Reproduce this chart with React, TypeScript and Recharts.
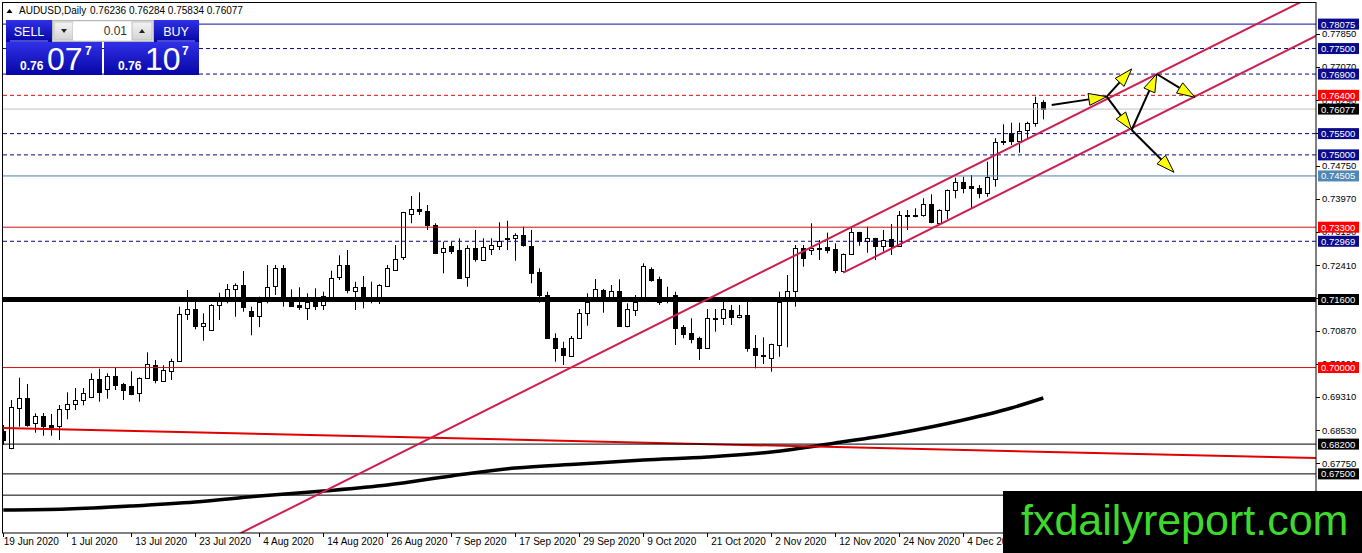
import React from 'react';
import { ComposedChart, Bar, Line, XAxis, YAxis, ReferenceLine } from 'recharts';

// ---------- data ----------
const opens = [
  0.68515, 0.68101, 0.69065, 0.69291, 0.68689, 0.68861, 0.68649, 0.68633, 0.69025, 0.69136,
  0.69237, 0.69300, 0.69731, 0.69488, 0.69801, 0.69613, 0.69566, 0.69394, 0.69747, 0.70053,
  0.69676, 0.69919, 0.70147, 0.71252, 0.71369, 0.70977, 0.70876, 0.71471, 0.71628, 0.71847,
  0.71934, 0.71330, 0.71219, 0.71548, 0.71917, 0.72333, 0.71548, 0.71471, 0.71416, 0.71548,
  0.71471, 0.71628, 0.72112, 0.72404, 0.71807, 0.71901, 0.71588, 0.71628, 0.71934, 0.72310,
  0.72583, 0.73610, 0.73735, 0.73690, 0.73352, 0.72700, 0.72858, 0.72764, 0.72122, 0.72804,
  0.72529, 0.72780, 0.72874, 0.73039, 0.73039, 0.73116, 0.72858, 0.72239, 0.71706, 0.70688,
  0.70452, 0.70278, 0.70688, 0.71299, 0.71605, 0.71823, 0.71666, 0.71800, 0.70977, 0.71369,
  0.71605, 0.72317, 0.72082, 0.71600, 0.71706, 0.70946, 0.70819, 0.70688, 0.70452, 0.71158,
  0.71158, 0.71353, 0.71181, 0.71235, 0.70452, 0.70278, 0.70217, 0.70547, 0.71588, 0.71783,
  0.72804, 0.72764, 0.72804, 0.72841, 0.72780, 0.72277, 0.72670, 0.73180, 0.72959, 0.73039,
  0.72858, 0.73015, 0.72858, 0.73587, 0.73595, 0.73587, 0.73838, 0.73406, 0.73704, 0.74175,
  0.74370, 0.74269, 0.74215, 0.74097, 0.74450, 0.75310, 0.75508, 0.75327, 0.75569, 0.75743,
  0.76236,
];
const highs = [
  0.68649, 0.69237, 0.69761, 0.69613, 0.68924, 0.68931, 0.68908, 0.69119, 0.69418, 0.69519,
  0.69519, 0.69865, 0.69973, 0.69865, 0.70006, 0.69640, 0.69911, 0.69770, 0.70358, 0.70177,
  0.70053, 0.70208, 0.71431, 0.71823, 0.71588, 0.71275, 0.71490, 0.71760, 0.71964, 0.71981,
  0.72270, 0.71431, 0.71666, 0.72411, 0.72411, 0.72411, 0.71840, 0.71887, 0.71746, 0.71863,
  0.71783, 0.72277, 0.72639, 0.72764, 0.72018, 0.72152, 0.72018, 0.71960, 0.72411, 0.72881,
  0.73660, 0.74033, 0.74120, 0.73822, 0.73392, 0.72959, 0.72959, 0.73039, 0.72874, 0.73234,
  0.73039, 0.73039, 0.73415, 0.73453, 0.73156, 0.73312, 0.73234, 0.72333, 0.71783, 0.70805,
  0.70608, 0.70742, 0.71376, 0.71746, 0.72082, 0.71850, 0.71941, 0.72075, 0.71510, 0.71706,
  0.72451, 0.72357, 0.72136, 0.71901, 0.71783, 0.71000, 0.71158, 0.70725, 0.71376, 0.71376,
  0.71548, 0.71471, 0.71471, 0.71548, 0.70765, 0.70711, 0.70560, 0.71783, 0.72176, 0.72881,
  0.72881, 0.73392, 0.72999, 0.73171, 0.72921, 0.72680, 0.73312, 0.73190, 0.73312, 0.73050,
  0.73234, 0.73375, 0.73681, 0.73704, 0.73744, 0.73979, 0.74073, 0.73721, 0.74185, 0.74464,
  0.74487, 0.74527, 0.74292, 0.74840, 0.75390, 0.75719, 0.75757, 0.75757, 0.75780, 0.76368,
  0.76284,
];
const lows = [
  0.68179, 0.68080, 0.68609, 0.68609, 0.68468, 0.68397, 0.68397, 0.68296, 0.68783, 0.69002,
  0.69112, 0.69280, 0.69197, 0.69267, 0.69472, 0.69237, 0.69350, 0.69197, 0.69730, 0.69629,
  0.69660, 0.69707, 0.70130, 0.71118, 0.70899, 0.70631, 0.70860, 0.71118, 0.71510, 0.71195,
  0.71313, 0.70758, 0.70950, 0.71510, 0.71706, 0.71431, 0.71431, 0.71353, 0.71118, 0.71353,
  0.71353, 0.71588, 0.72058, 0.71746, 0.71353, 0.71393, 0.71510, 0.71494, 0.71901, 0.72294,
  0.72529, 0.73392, 0.73587, 0.73234, 0.72670, 0.72216, 0.72670, 0.72082, 0.71901, 0.72489,
  0.72510, 0.72646, 0.72764, 0.72764, 0.72512, 0.72841, 0.71981, 0.71525, 0.70688, 0.70137,
  0.70060, 0.70260, 0.70670, 0.70984, 0.71588, 0.71289, 0.71651, 0.70970, 0.70946, 0.71212,
  0.71590, 0.72018, 0.71471, 0.71510, 0.70530, 0.70688, 0.70570, 0.70177, 0.70440, 0.70843,
  0.71000, 0.71000, 0.71158, 0.70372, 0.69982, 0.70083, 0.69902, 0.70255, 0.70476, 0.71431,
  0.72371, 0.72646, 0.72529, 0.72686, 0.72216, 0.72230, 0.72646, 0.72865, 0.72700, 0.72529,
  0.72724, 0.72646, 0.72841, 0.73234, 0.73533, 0.73547, 0.73392, 0.73392, 0.73486, 0.73979,
  0.74097, 0.73744, 0.73979, 0.74017, 0.74252, 0.75233, 0.75233, 0.75052, 0.75390, 0.75663,
  0.75834,
];
const closes = [
  0.68313, 0.69065, 0.69291, 0.68649, 0.68861, 0.68633, 0.68609, 0.69025, 0.69136, 0.69237,
  0.69394, 0.69724, 0.69432, 0.69801, 0.69597, 0.69472, 0.69378, 0.69747, 0.70076, 0.69691,
  0.69942, 0.70147, 0.71252, 0.71369, 0.70977, 0.71054, 0.71471, 0.71572, 0.71854, 0.71934,
  0.71416, 0.71219, 0.71548, 0.71887, 0.72333, 0.71628, 0.71454, 0.71416, 0.71548, 0.71454,
  0.71689, 0.72112, 0.72404, 0.71807, 0.71901, 0.71588, 0.71600, 0.71934, 0.72348, 0.72559,
  0.73650, 0.73735, 0.73688, 0.73352, 0.72700, 0.72804, 0.72747, 0.72112, 0.72804, 0.72545,
  0.72827, 0.72874, 0.72982, 0.73015, 0.73116, 0.72881, 0.72216, 0.71689, 0.70702, 0.70452,
  0.70278, 0.70702, 0.71275, 0.71548, 0.71840, 0.71605, 0.71800, 0.70984, 0.71369, 0.71548,
  0.72388, 0.72058, 0.71548, 0.71610, 0.70923, 0.70789, 0.70688, 0.70452, 0.71158, 0.71170,
  0.71376, 0.71181, 0.71235, 0.70452, 0.70278, 0.70290, 0.70547, 0.71548, 0.71800, 0.72804,
  0.72569, 0.72804, 0.72810, 0.72780, 0.72277, 0.72670, 0.73180, 0.72959, 0.73039, 0.72858,
  0.72999, 0.72841, 0.73587, 0.73595, 0.73590, 0.73838, 0.73406, 0.73704, 0.74175, 0.74370,
  0.74238, 0.74215, 0.74097, 0.74473, 0.75310, 0.75320, 0.75310, 0.75569, 0.75743, 0.76213,
  0.76077,
];

// moving average read at a few bars
const maBars = [0, 8, 16, 24, 32, 40, 48, 56, 64, 72, 80, 88, 96, 104, 112, 120, 126, 130];
const maValues = [
  0.66650, 0.66674, 0.66745, 0.66839, 0.66980, 0.67097, 0.67238, 0.67450, 0.67638,
  0.67732, 0.67826, 0.67897, 0.68014, 0.68226, 0.68461, 0.68767, 0.69049, 0.69284,
];

// date axis labels (every 8th bar)
const dateTicks = [0, 8, 16, 24, 32, 40, 48, 56, 64, 72, 80, 88, 96, 104, 112, 120];
const dateLabels = [
  '19 Jun 2020', '1 Jul 2020', '13 Jul 2020', '23 Jul 2020', '4 Aug 2020', '14 Aug 2020',
  '26 Aug 2020', '7 Sep 2020', '17 Sep 2020', '29 Sep 2020', '9 Oct 2020', '21 Oct 2020',
  '2 Nov 2020', '12 Nov 2020', '24 Nov 2020', '4 Dec 2020',
];

// price axis grid labels
const priceTicks = [
  0.7785, 0.7707, 0.7629, 0.7551, 0.7475, 0.7397, 0.7319, 0.7241, 0.7163, 0.7087,
  0.7009, 0.6931, 0.6853, 0.6775, 0.6697,
];

// horizontal levels
const levelPrices = [
  0.78075, 0.775, 0.769, 0.764, 0.755, 0.75, 0.74505, 0.733, 0.72969, 0.716, 0.7, 0.682, 0.675, 0.67,
];
const bidPrice = 0.76077;

// sloping lines [bar, price]
const redTrend = [[-2, 0.68587], [170, 0.67848]];
const channelUpper = [[25, 0.65666], [170, 0.7933]];
const channelLower = [[105, 0.7223], [170, 0.78356]];

// arrows: [fromBar, fromPrice, toBar, toPrice]
const arrows = [
  [131.05, 0.76173, 137.93, 0.76368],
  [137.93, 0.76368, 141.05, 0.7702],
  [137.93, 0.76368, 141.05, 0.75585],
  [141.05, 0.75585, 144.18, 0.76902],
  [144.18, 0.76902, 148.96, 0.76354],
  [141.05, 0.75585, 146.34, 0.74591],
];

// ---------- styles ----------
const NAVY = '#08087e';
const RED = '#ee0000';
const levelStyles = [
  { stroke: '#1010a8', dash: undefined, w: 1, box: '#0a0a8c' },
  { stroke: NAVY, dash: '4 3', w: 1, box: '#0a0a8c' },
  { stroke: NAVY, dash: '4 3', w: 1, box: '#0a0a8c' },
  { stroke: '#d01010', dash: '4 3', w: 1, box: '#ff0000' },
  { stroke: NAVY, dash: '4 3', w: 1, box: '#0a0a8c' },
  { stroke: NAVY, dash: '4 3', w: 1, box: '#0a0a8c' },
  { stroke: '#4a7fa8', dash: undefined, w: 1, box: '#4f87b5' },
  { stroke: '#d01010', dash: undefined, w: 1, box: '#ff0000' },
  { stroke: NAVY, dash: '4 3', w: 1, box: '#0a0a8c' },
  { stroke: '#000', dash: undefined, w: 5, box: '#000' },
  { stroke: '#d01010', dash: undefined, w: 1, box: '#ff0000' },
  { stroke: '#000', dash: undefined, w: 1, box: '#000' },
  { stroke: '#000', dash: undefined, w: 1, box: '#000' },
  { stroke: '#000', dash: undefined, w: 1, box: null },
];

const FONT = '"Liberation Sans", Arial, sans-serif';

const rows = opens.map((o, i) => {
  const k = maBars.indexOf(i);
  return { i, o, h: highs[i], l: lows[i], c: closes[i], ma: k >= 0 ? maValues[k] : null };
});

const Y_MIN = 0.6611;
const Y_MAX = 0.78571;

function CandleShape(props: any) {
  const { x, y, width, height, payload } = props;
  if (!payload) return null;
  const { o, h, l, c } = payload;
  const yHigh = Math.min(y, y + height);
  const yLow = Math.max(y, y + height);
  const k = h - l > 0 ? (yLow - yHigh) / (h - l) : 0;
  const yo = yHigh + (h - o) * k;
  const yc = yHigh + (h - c) * k;
  const cx = Math.round(x + width / 2) + 0.5;
  const bull = c >= o;
  const top = Math.round(Math.min(yo, yc)) + 0.5;
  const bh = Math.max(Math.round(Math.abs(yo - yc)), 1);
  return (
    <g>
      <line x1={cx} x2={cx} y1={yHigh} y2={yLow} stroke="#000" strokeWidth={1} />
      <rect x={cx - 2} y={top} width={4} height={bh} fill={bull ? '#fff' : '#000'} stroke="#000" strokeWidth={1} />
    </g>
  );
}

function DateTick(props: any) {
  const { x, y, payload } = props;
  const k = dateTicks.indexOf(payload.value);
  const tx = k === 0 ? x + 0.5 : x + 4;
  return (
    <g>
      <line x1={Math.round(x) + 0.5} x2={Math.round(x) + 0.5} y1={y} y2={y + 4} stroke="#000" />
      <text x={tx} y={y + 12} fontSize={10} fill="#000" fontFamily={FONT}>{dateLabels[k]}</text>
    </g>
  );
}

function PriceTick(props: any) {
  const { x, y, payload } = props;
  const v = payload.value;
  const k = levelPrices.indexOf(v);
  if (k >= 0 || v === bidPrice) {
    const box = v === bidPrice ? '#000' : levelStyles[k].box;
    if (!box) return null;
    return (
      <g>
        <rect x={x + 2} y={y - 5.5} width={41} height={11} fill={box} />
        <text x={x + 5} y={y + 3.5} fontSize={9.5} fill="#fff" fontFamily={FONT}>{v.toFixed(5)}</text>
      </g>
    );
  }
  return (
    <g>
      <line x1={x} x2={x + 4} y1={Math.round(y) + 0.5} y2={Math.round(y) + 0.5} stroke="#000" />
      <text x={x + 6} y={y + 3.5} fontSize={9.5} fill="#000" fontFamily={FONT}>{v.toFixed(5)}</text>
    </g>
  );
}

function ArrowShape(props: any) {
  const { x1, y1, x2, y2 } = props;
  const ang = Math.atan2(y2 - y1, x2 - x1);
  const len = 18;
  const half = 6;
  const bx = x2 - len * Math.cos(ang);
  const by = y2 - len * Math.sin(ang);
  const px = -Math.sin(ang) * half;
  const py = Math.cos(ang) * half;
  return (
    <g>
      <line x1={x1} y1={y1} x2={bx} y2={by} stroke="#000" strokeWidth={2} />
      <polygon points={`${x2},${y2} ${bx + px},${by + py} ${bx - px},${by - py}`} fill="#ffff00" stroke="#000" strokeWidth={1} />
    </g>
  );
}

function Panel() {
  return (
    <svg width={1362} height={553} style={{ position: 'absolute', left: 0, top: 0, pointerEvents: 'none' }}>
      <defs>
        <linearGradient id="pb" x1="0" y1="0" x2="0" y2="1">
          <stop offset="0" stopColor="#3030e8" />
          <stop offset="1" stopColor="#0606a4" />
        </linearGradient>
        <linearGradient id="gb" x1="0" y1="0" x2="0" y2="1">
          <stop offset="0" stopColor="#f4f4f4" />
          <stop offset="1" stopColor="#d4d4d4" />
        </linearGradient>
      </defs>
      <rect x={2.5} y={2.5} width={1313.5} height={530.5} fill="none" stroke="#000" />
      {/* header */}
      <polygon points="6.5,13 12.5,13 9.5,9" fill="#000" />
      <text x={19} y={14} fontSize={10} fill="#000" fontFamily={FONT}>AUDUSD,Daily</text>
      <text x={90} y={14} fontSize={10} fill="#000" fontFamily={FONT}>0.76236 0.76284 0.75834 0.76077</text>
      {/* trade panel */}
      <rect x={6} y={20} width={46} height={22} fill="url(#pb)" />
      <line x1={10} x2={48} y1={41} y2={41} stroke="#8a8aff" />
      <text x={29} y={36} fontSize={12.5} fill="#fff" textAnchor="middle" fontFamily={FONT}>SELL</text>
      <rect x={52.5} y={20.5} width={101} height={21} fill="#ececec" stroke="#b8b8b8" />
      <rect x={54} y={22} width={19} height={18} fill="url(#gb)" stroke="#c0c0c0" />
      <polygon points="61,29 67,29 64,33" fill="#222" />
      <rect x={73} y={22} width={59} height={18} fill="#fff" />
      <text x={127} y={35} fontSize={12} fill="#333" textAnchor="end" fontFamily={FONT}>0.01</text>
      <rect x={132} y={22} width={20} height={18} fill="url(#gb)" stroke="#c0c0c0" />
      <polygon points="139,33 145,33 142,29" fill="#222" />
      <rect x={154} y={20} width={45} height={22} fill="url(#pb)" />
      <line x1={157} x2={195} y1={41} y2={41} stroke="#8a8aff" />
      <text x={176} y={36} fontSize={12.5} fill="#fff" textAnchor="middle" fontFamily={FONT}>BUY</text>
      <rect x={6} y={42} width={96} height={33} fill="url(#pb)" />
      <text x={20} y={70} fontSize={12} fontWeight="bold" fill="#fff" fontFamily={FONT}>0.76</text>
      <text x={47} y={70} fontSize={32} fill="#fff" fontFamily={FONT}>07</text>
      <text x={85} y={55} fontSize={12} fontWeight="bold" fill="#fff" fontFamily={FONT}>7</text>
      <rect x={104} y={42} width={95} height={33} fill="url(#pb)" />
      <text x={118} y={70} fontSize={12} fontWeight="bold" fill="#fff" fontFamily={FONT}>0.76</text>
      <text x={145} y={70} fontSize={32} fill="#fff" fontFamily={FONT}>10</text>
      <text x={182} y={55} fontSize={12} fontWeight="bold" fill="#fff" fontFamily={FONT}>7</text>
      {/* watermark */}
      <rect x={1003} y={491} width={359} height={62} fill="#000" />
      <text x={1021} y={535} fontSize={43} fill="#3fd82e" fontFamily={FONT}>fxdailyreport.com</text>
    </svg>
  );
}

export default function App() {
  return (
    <div style={{ position: 'absolute', left: 0, top: 0, width: 1362, height: 553, background: '#fff' }}>
      <ComposedChart width={1362} height={553} data={rows} margin={{ top: 3, right: 0, bottom: 0, left: 3 }}>
        <XAxis
          type="number"
          dataKey="i"
          domain={[-0.04, 164.09]}
          allowDataOverflow
          ticks={dateTicks}
          interval={0}
          height={20}
          axisLine={false}
          tickLine={false}
          tickSize={0}
          tickMargin={0}
          tick={<DateTick />}
        />
        <YAxis
          orientation="right"
          domain={[Y_MIN, Y_MAX]}
          allowDataOverflow
          ticks={[...priceTicks, ...levelPrices, bidPrice]}
          interval={0}
          width={46}
          axisLine={false}
          tickLine={false}
          tickSize={0}
          tickMargin={0}
          tick={<PriceTick />}
        />
        <Line dataKey="ma" stroke="#000" strokeWidth={3.5} dot={false} connectNulls type="monotone" isAnimationActive={false} />
        <ReferenceLine
          segment={[{ x: redTrend[0][0], y: redTrend[0][1] }, { x: redTrend[1][0], y: redTrend[1][1] }]}
          stroke="#e00000"
          strokeWidth={2}
          ifOverflow="hidden"
        />
        <Bar dataKey={(d: any) => [d.l, d.h]} barSize={5} shape={CandleShape} isAnimationActive={false} />
        <ReferenceLine y={bidPrice} stroke="#c0c0c0" strokeWidth={1} ifOverflow="hidden" />
        {levelPrices.map((p, k) => (
          <ReferenceLine
            key={'lv' + k}
            y={p}
            stroke={levelStyles[k].stroke}
            strokeWidth={levelStyles[k].w}
            strokeDasharray={levelStyles[k].dash}
            ifOverflow="hidden"
          />
        ))}
        <ReferenceLine
          segment={[{ x: channelUpper[0][0], y: channelUpper[0][1] }, { x: channelUpper[1][0], y: channelUpper[1][1] }]}
          stroke="#cc1f4f"
          strokeWidth={2}
          ifOverflow="hidden"
        />
        <ReferenceLine
          segment={[{ x: channelLower[0][0], y: channelLower[0][1] }, { x: channelLower[1][0], y: channelLower[1][1] }]}
          stroke="#cc1f4f"
          strokeWidth={2}
          ifOverflow="hidden"
        />
        {arrows.map((a, k) => (
          <ReferenceLine
            key={'ar' + k}
            segment={[{ x: a[0], y: a[1] }, { x: a[2], y: a[3] }]}
            shape={ArrowShape}
            ifOverflow="visible"
          />
        ))}
      </ComposedChart>
      <Panel />
    </div>
  );
}
